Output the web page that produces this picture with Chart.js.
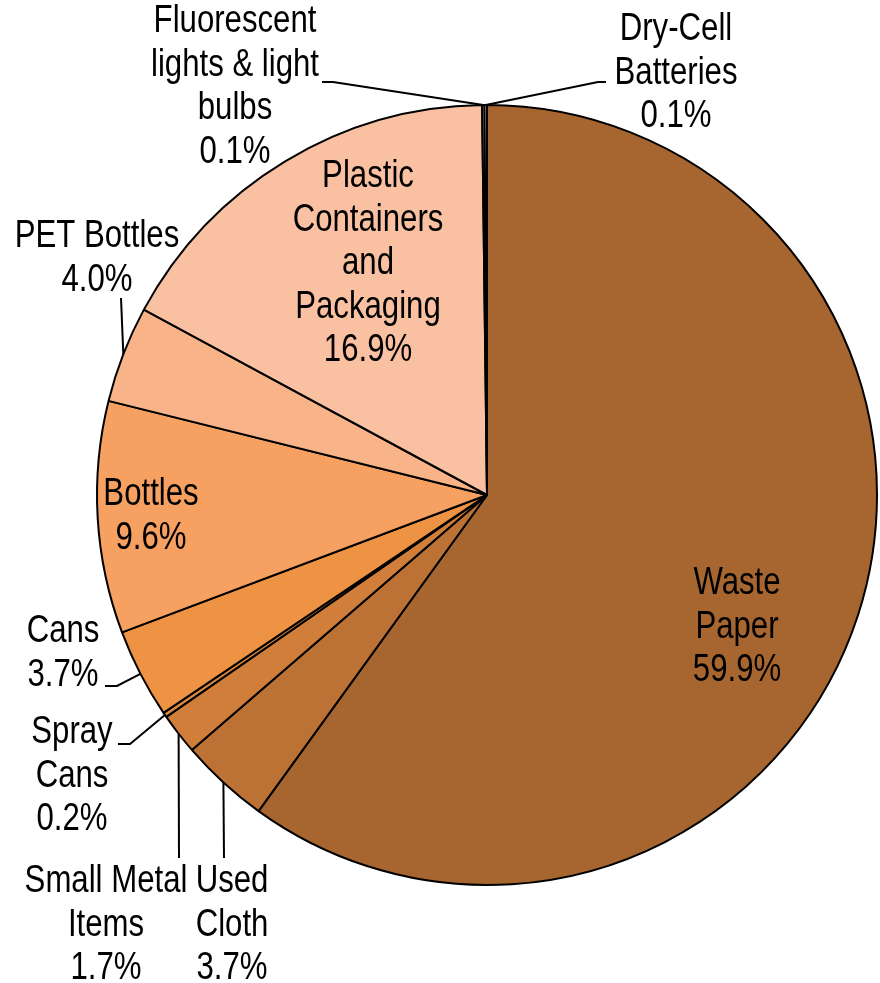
<!DOCTYPE html>
<html>
<head>
<meta charset="utf-8">
<script src="https://cdn.jsdelivr.net/npm/chart.js@4.4.1/dist/chart.umd.min.js"></script>
<style>
  body { margin: 0; background: #fff; }
  canvas { display: block; }
</style>
</head>
<body>
<canvas id="waste-chart" width="880" height="983"></canvas>
<script>
// Data
const categories = [
  ["Waste", "Paper"],
  ["Used", "Cloth"],
  ["Small Metal", "Items"],
  ["Spray", "Cans"],
  ["Cans"],
  ["Bottles"],
  ["PET Bottles"],
  ["Plastic", "Containers", "and", "Packaging"],
  ["Fluorescent", "lights & light", "bulbs"],
  ["Dry-Cell", "Batteries"]
];
const shares = [59.9, 3.7, 1.7, 0.2, 3.7, 9.6, 4.0, 16.9, 0.1, 0.1];
const sliceColors = ["#A7662F", "#BB7234", "#D07E3A", "#E08A3F", "#EE9343",
                     "#F6A062", "#F8B388", "#F9C0A2", "#FCE0D0", "#FCE0D0"];

// Label layout: text centre x, first line y, and the leader path (after the arc point)
const labelLayout = [
  { x: 737, y: 584, leader: null },
  { x: 232, y: 882, leader: [[224, 858]] },
  { x: 106, y: 882, leader: [[179, 858]] },
  { x: 72,  y: 733, leader: [[130, 744], [118, 744]] },
  { x: 63,  y: 632, leader: [[117, 686], [105, 686]] },
  { x: 151, y: 495, leader: null },
  { x: 97,  y: 237, leader: [[121, 298]] },
  { x: 368, y: 177, leader: null },
  { x: 235, y: 22,  leader: [[333, 82], [322, 82]] },
  { x: 676, y: 30,  leader: [[598, 82], [606, 82]] }
];

const FONT_SIZE = 38;
const LINE_H = 43.5;

// check whether the narrow font is there, otherwise squeeze Liberation Sans
function hasFont(name) {
  const c = document.createElement('canvas').getContext('2d');
  c.font = '40px monospace';
  const a = c.measureText('Small Metal Items').width;
  c.font = '40px "' + name + '", monospace';
  return c.measureText('Small Metal Items').width !== a;
}
const narrow = hasFont('Liberation Sans Narrow');
const fontFamily = narrow ? '"Liberation Sans Narrow"' : '"Liberation Sans", Arial, sans-serif';
const squeeze = narrow ? 1 : 0.82;

const pieLabels = {
  id: 'pieLabels',
  afterDatasetsDraw(chart) {
    const ctx = chart.ctx;
    const arcs = chart.getDatasetMeta(0).data;
    ctx.save();
    ctx.strokeStyle = '#000';
    ctx.lineWidth = 2;
    arcs.forEach((arc, i) => {
      const lay = labelLayout[i];
      if (!lay.leader) return;
      const mid = (arc.startAngle + arc.endAngle) / 2;
      const px = arc.x + Math.cos(mid) * arc.outerRadius;
      const py = arc.y + Math.sin(mid) * arc.outerRadius;
      ctx.beginPath();
      ctx.moveTo(px, py);
      lay.leader.forEach(p => ctx.lineTo(p[0], p[1]));
      ctx.stroke();
    });

    ctx.fillStyle = '#000';
    ctx.textAlign = 'center';
    ctx.textBaseline = 'middle';
    ctx.font = FONT_SIZE + 'px ' + fontFamily;
    categories.forEach((lines, i) => {
      const lay = labelLayout[i];
      const all = lines.concat([shares[i].toFixed(1) + '%']);
      all.forEach((t, k) => {
        ctx.save();
        ctx.translate(lay.x, lay.y + k * LINE_H);
        ctx.scale(squeeze, 1);
        ctx.fillText(t, 0, 0);
        ctx.restore();
      });
    });
    ctx.restore();
  }
};

const ctx = document.getElementById('waste-chart').getContext('2d');
new Chart(ctx, {
  type: 'pie',
  data: {
    labels: categories.map(c => c.join(' ')),
    datasets: [{
      data: shares,
      backgroundColor: sliceColors,
      borderColor: '#000',
      borderWidth: 2
    }]
  },
  options: {
    responsive: false,
    animation: false,
    rotation: 0,
    layout: { padding: { left: 96, right: 2, top: 104, bottom: 97 } },
    plugins: {
      legend: { display: false },
      tooltip: { enabled: false }
    }
  },
  plugins: [pieLabels]
});
</script>
</body>
</html>
